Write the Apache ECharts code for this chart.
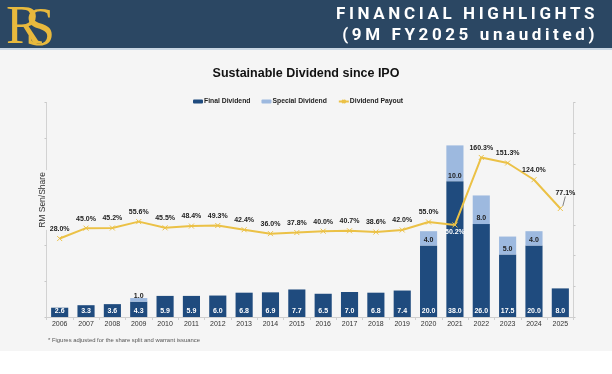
<!DOCTYPE html>
<html>
<head>
<meta charset="utf-8">
<script src="https://cdn.jsdelivr.net/npm/echarts@6/dist/echarts.min.js"></script>
<style>
  html, body { margin:0; padding:0; background:#ffffff; }
  #wrap { position:relative; width:612px; height:374px; overflow:hidden; }
  #band { position:absolute; left:0; top:0; width:612px; height:48px; background:#2B4763; }
  #bandline { position:absolute; left:0; top:48px; width:612px; height:2px; background:#C9D6E3; }
  #panel { position:absolute; left:0; top:50px; width:612px; height:301px; background:#F5F5F5; }
  #chart { position:absolute; left:0; top:0; width:612px; height:374px; }
  #head { position:absolute; right:14px; top:3px; font-family:Roboto, 'Liberation Sans', sans-serif; font-weight:bold;
          font-size:17px; letter-spacing:3.6px; color:#ffffff; text-align:right; line-height:21px; }
  .logo { position:absolute; font-family:'Liberation Serif','DejaVu Serif',serif; font-size:54px; color:#E8B93D; line-height:54px; }
</style>
</head>
<body>
<div id="wrap">
  <div id="band"></div>
  <div id="bandline"></div>
  <div id="panel"></div>
  <div id="chart"></div>
  <div class="logo" style="left:6px; top:-2px;">R</div>
  <div class="logo" style="left:25px; top:0px;">S</div>
  <div id="head">FINANCIAL HIGHLIGHTS<br>(9M FY2025 unaudited)</div>
</div>
<script>
var years = ['2006','2007','2008','2009','2010','2011','2012','2013','2014','2015','2016','2017','2018','2019','2020','2021','2022','2023','2024','2025'];
var finalDividend = [2.6, 3.3, 3.6, 4.3, 5.9, 5.9, 6.0, 6.8, 6.9, 7.7, 6.5, 7.0, 6.8, 7.4, 20.0, 38.0, 26.0, 17.5, 20.0, 8.0];
var specialDividend = [null, null, null, 1.0, null, null, null, null, null, null, null, null, null, null, 4.0, 10.0, 8.0, 5.0, 4.0, null];
var dividendPayout = [28.0, 45.0, 45.2, 55.6, 45.5, 48.4, 49.3, 42.4, 36.0, 37.8, 40.0, 40.7, 38.6, 42.0, 55.0, 50.2, 160.3, 151.3, 124.0, 77.1];

var FONT = "'Liberation Sans', Arial, sans-serif";
var payoutData = dividendPayout.map(function (v, i) {
  if (years[i] === '2021') {
    return { value: v, label: { position: 'bottom', distance: 1, color: '#ffffff' } };
  }
  if (i === years.length - 1) {
    return { value: v, labelLine: { show: true, lineStyle: { color: '#333333', width: 0.6 } } };
  }
  return v;
});

var chart = echarts.init(document.getElementById('chart'), null, { renderer: 'canvas' });
chart.setOption({
  backgroundColor: 'transparent',
  animation: false,
  textStyle: { fontFamily: FONT },
  title: {
    text: 'Sustainable Dividend since IPO',
    left: 'center', top: 62,
    textStyle: { fontSize: 12.5, fontWeight: 'bold', color: '#111111', fontFamily: FONT }
  },
  legend: {
    left: 188, top: 93,
    itemWidth: 10, itemHeight: 4, itemGap: 11,
    textStyle: { fontSize: 6.8, fontWeight: 'bold', color: '#222222', padding: [0, 0, 0, -4] },
    data: ['Final Dividend', 'Special Dividend', 'Dividend Payout']
  },
  grid: { left: 46.5, right: 38.5, top: 102.5, bottom: 57, containLabel: false },
  xAxis: {
    type: 'category', data: years,
    axisLine: { lineStyle: { color: '#CFCFCF', width: 1 } },
    axisTick: { show: true, length: 3, lineStyle: { color: '#CFCFCF' } },
    axisLabel: { fontSize: 7, color: '#333333', margin: 4, interval: 0 }
  },
  yAxis: [
    { type: 'value', min: 0, max: 60, interval: 10, position: 'left',
      axisLine: { show: true, lineStyle: { color: '#D2D2D2' } },
      axisTick: { show: true, length: 2, lineStyle: { color: '#C8C8C8' } },
      axisLabel: { show: false }, splitLine: { show: false } },
    { type: 'value', min: -100, max: 250, interval: 50, position: 'right',
      axisLine: { show: true, lineStyle: { color: '#D2D2D2' } },
      axisTick: { show: true, length: 2, lineStyle: { color: '#C8C8C8' } },
      axisLabel: { show: false }, splitLine: { show: false } }
  ],
  graphic: [
    { type: 'text', x: 43, y: 200, rotation: Math.PI / 2, z: 100,
      style: { text: 'RM Sen/Share', fontSize: 8.5, fontFamily: FONT, fill: '#333333',
               align: 'center', verticalAlign: 'middle', backgroundColor: '#F5F5F5', padding: [0, 2] } },
    { type: 'text', left: 48, top: 337, z: 100,
      style: { text: '* Figures adjusted for the share split and warrant issuance', fontSize: 5.9, fontFamily: FONT, fill: '#555555' } }
  ],
  series: [
    { name: 'Final Dividend', type: 'bar', stack: 'div', data: finalDividend,
      barCategoryGap: '35%',
      itemStyle: { color: '#1F4B7E' },
      label: { show: true, position: 'insideBottom', distance: 2, color: '#ffffff', fontSize: 7, fontWeight: 'bold',
               formatter: function (p) { return p.value == null ? '' : Number(p.value).toFixed(1); } } },
    { name: 'Special Dividend', type: 'bar', stack: 'div', data: specialDividend,
      itemStyle: { color: '#9DB9DF' },
      label: { show: true, position: 'insideBottom', distance: 2, color: '#222222', fontSize: 7, fontWeight: 'bold',
               formatter: function (p) { return p.value == null ? '' : Number(p.value).toFixed(1); } } },
    { name: 'Dividend Payout', type: 'line', yAxisIndex: 1, data: payoutData, z: 5,
      symbol: 'path://M0,0L10,10M10,0L0,10', symbolSize: 5,
      lineStyle: { color: '#EBC146', width: 2 },
      itemStyle: { color: '#EBC146', borderColor: '#EBC146', borderWidth: 1 },
      label: { show: true, position: 'top', distance: 3, color: '#222222', fontSize: 7, fontWeight: 'bold',
               formatter: function (p) { return Number(p.value).toFixed(1) + '%'; } },
      labelLine: { show: false },
      labelLayout: function (p) {
        if (p.dataIndex === years.length - 1) { return { dx: 5, dy: -6 }; }
        return {};
      } }
  ]
});
</script>
</body>
</html>
